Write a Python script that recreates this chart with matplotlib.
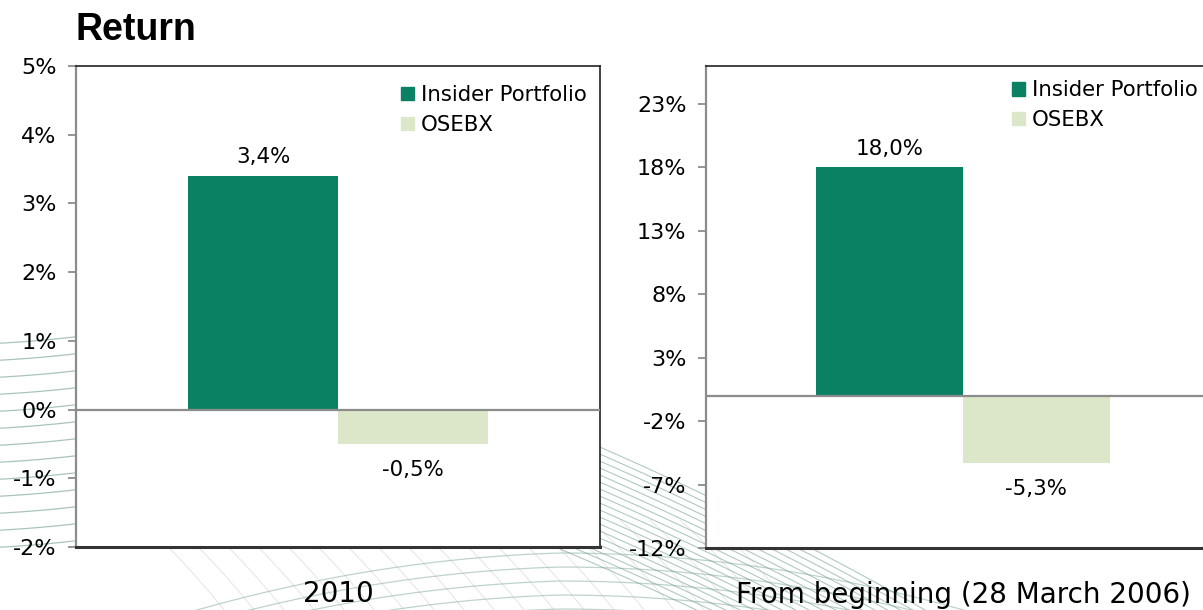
import numpy as np
import matplotlib
matplotlib.use('Agg')
import matplotlib.pyplot as plt
from matplotlib.patches import Patch

plt.rcParams['font.family'] = ['DejaVu Sans']

SERIES = ['Insider Portfolio', 'OSEBX']
PANEL_CATS = ['2010', 'From beginning (28 March 2006)']
VALUES_2010 = [3.4, -0.5]
VALUES_BEGIN = [18.0, -5.3]
TICKS_2010 = [-2, -1, 0, 1, 2, 3, 4, 5]
TICKS_BEGIN = [-12, -7, -2, 3, 8, 13, 18, 23]

GREEN = '#0b8163'
PALE = '#dce6c8'
COLORS = [GREEN, PALE]
W, H = 1203, 610


def fmt(v):
    return f'{v:.1f}%'.replace('.', ',')


def background(fig):
    # decorative swirl lines behind the charts, drawn in pixel space
    bg = fig.add_axes([0, 0, 1, 1], zorder=-10)
    bg.set_xlim(0, W); bg.set_ylim(H, 0); bg.axis('off')
    c = '#6f9e8c'
    x = np.linspace(0, 90, 30)
    for k in range(13):
        y0 = 338 + 17 * k
        bg.plot(x, y0 + 6 - 0.09 * x - 0.0004 * (x - 45) ** 2, color=c, lw=0.9, alpha=0.6)
    # big arcs along the bottom
    for r in np.arange(0, 70, 14):
        xs = np.linspace(0, W, 200)
        ys = 553 + r + 0.00035 * (xs - 560) ** 2 - 0.03 * (xs - 560) * (xs < 560)
        bg.plot(xs, ys, color=c, lw=0.9, alpha=0.45)
    # fan in the gap between the panels
    xs = np.linspace(560, 1203, 150)
    for k in range(18):
        y0 = 430 + 7 * k
        ys = y0 + 0.42 * (xs - 560) + 0.0002 * (xs - 560) ** 2
        bg.plot(xs, ys, color=c, lw=0.8, alpha=0.55)
    # faint grey hatching near the bottom
    for k in range(20):
        xs = np.linspace(140 + 30 * k, 240 + 30 * k, 20)
        bg.plot(xs, 520 + 0.9 * (xs - xs[0]) + 0.002 * (xs - xs[0]) ** 2, color='0.7', lw=0.7, alpha=0.35)


def panel(fig, rect, values, ticks, ylim, cat, leg_anchor):
    ax = fig.add_axes(rect)
    ax.set_facecolor('white')
    w = 1 / 3.5
    xs = [-w / 2, w / 2]
    bars = ax.bar(xs, values, width=w, color=COLORS, zorder=2)
    ax.axhline(0, color='#8c8c8c', lw=1.6, zorder=3)
    for b, v in zip(bars, values):
        off = 13.5 if v >= 0 else -19
        ax.annotate(fmt(v), (b.get_x() + b.get_width() / 2, v), xytext=(0, off),
                    textcoords='offset points', ha='center', va='center', fontsize=15.4)
    ax.set_xlim(-0.5, 0.5)
    ax.set_ylim(*ylim)
    ax.set_yticks(ticks)
    ax.set_yticklabels([f'{t}%' for t in ticks], fontsize=16)
    ax.tick_params(axis='y', length=6, width=1.3, color='#8c8c8c', pad=8)
    ax.set_xticks([0])
    ax.set_xticklabels([cat], fontsize=20)
    ax.tick_params(axis='x', length=0, pad=24)
    ax.spines['top'].set_color('#222222'); ax.spines['top'].set_linewidth(1.2)
    ax.spines['right'].set_color('#222222'); ax.spines['right'].set_linewidth(1.2)
    ax.spines['left'].set_color('#8c8c8c'); ax.spines['left'].set_linewidth(1.6)
    ax.spines['bottom'].set_color('#333333'); ax.spines['bottom'].set_linewidth(2.2)
    handles = [Patch(color=c) for c in COLORS]
    ax.legend(handles, SERIES, loc='upper left', bbox_to_anchor=leg_anchor, frameon=False,
              fontsize=15.3, handlelength=0.6, handleheight=0.6, handletextpad=0.35,
              borderpad=0, borderaxespad=0, labelspacing=0.45)
    return ax


def main():
    fig = plt.figure(figsize=(W / 100, H / 100), dpi=100)
    background(fig)
    fig.text(75 / W, 1 - 40 / H, 'Return', fontsize=27, fontweight='bold', va='baseline',
             ha='left', family='Liberation Sans')
    panel(fig, [76 / W, 63 / H, 524 / W, 481 / H], VALUES_2010, TICKS_2010, (-2, 5),
          PANEL_CATS[0], (0.62, 0.96))
    panel(fig, [706 / W, 62 / H, 514 / W, 482 / H], VALUES_BEGIN, TICKS_BEGIN, (-12, 26),
          PANEL_CATS[1], (0.595, 0.97))
    fig.savefig('out.png', dpi=100, facecolor='white')
    plt.close(fig)


if __name__ == '__main__':
    main()
